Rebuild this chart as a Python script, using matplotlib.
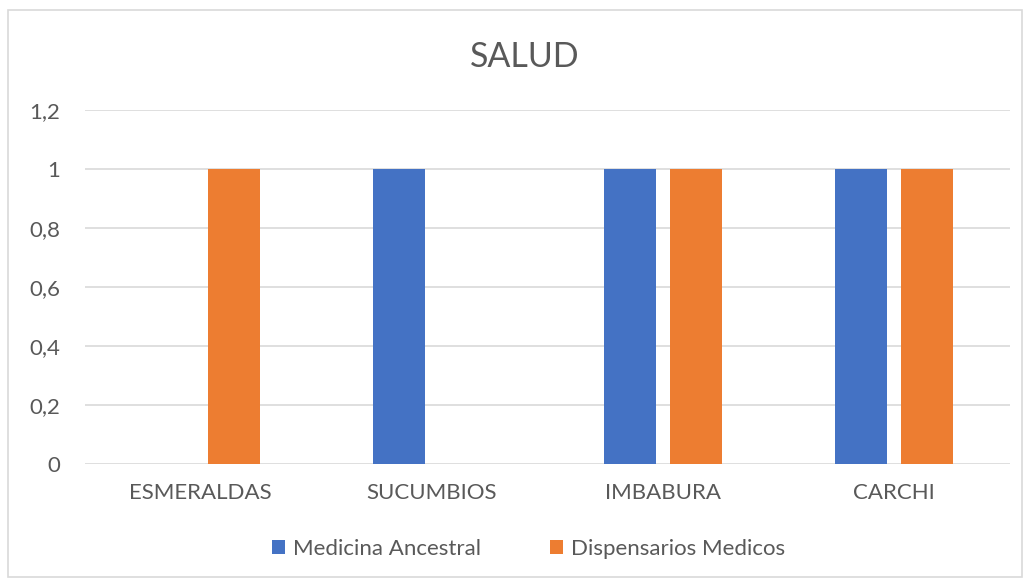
import matplotlib
matplotlib.use("Agg")
import matplotlib.pyplot as plt
import matplotlib.patches as mpatches
import numpy as np

# Data
categories = ["ESMERALDAS", "SUCUMBIOS", "IMBABURA", "CARCHI"]
medicina_ancestral = [0, 1, 1, 1]
dispensarios_medicos = [1, 0, 1, 1]
y_ticks = [0, 0.2, 0.4, 0.6, 0.8, 1, 1.2]
y_tick_labels = ["0", "0,2", "0,4", "0,6", "0,8", "1", "1,2"]

blue = "#4472C4"
orange = "#ED7D31"
text_gray = "#595959"

plt.rcParams['font.family'] = ['Lato', 'DejaVu Sans']

fig = plt.figure(figsize=(10.31, 5.82), dpi=100)
ax = fig.add_axes([85 / 1031, 1 - 464 / 582, 925 / 1031, 354 / 582])

x = np.arange(len(categories))
width = 0.225
offset = 0.143
ax.bar(x - offset, medicina_ancestral, width, color=blue, label="Medicina Ancestral", zorder=3)
ax.bar(x + offset, dispensarios_medicos, width, color=orange, label="Dispensarios Medicos", zorder=3)

ax.set_xlim(-0.5, 3.5)
ax.set_ylim(0, 1.2)
ax.set_yticks(y_ticks)
ax.set_yticklabels(y_tick_labels)
ax.set_xticks(x)
ax.set_xticklabels(categories)
ax.tick_params(axis='both', length=0, labelsize=16, colors=text_gray)
ax.tick_params(axis='y', pad=18)
ax.tick_params(axis='x', pad=14)

ax.grid(axis='y', color='#D9D9D9', linewidth=1.2, zorder=0)
for s in ax.spines.values():
    s.set_visible(False)

fig.text(525 / 1031, 1 - 57 / 582, "SALUD", ha='center', va='center', fontsize=24.5, color=text_gray)

ax.legend(loc='center', bbox_to_anchor=(529 / 1031, 1 - 549 / 582), bbox_transform=fig.transFigure,
          ncol=2, frameon=False, fontsize=16, handlelength=0.55, handleheight=0.55,
          handletextpad=0.4, columnspacing=3.1, labelcolor=text_gray)

border = mpatches.Rectangle((8 / 1031, 5 / 582), 1014 / 1031, 567 / 582, transform=fig.transFigure,
                            fill=False, edgecolor='#D9D9D9', linewidth=1.2)
fig.patches.append(border)

fig.savefig("out.png", dpi=100)
